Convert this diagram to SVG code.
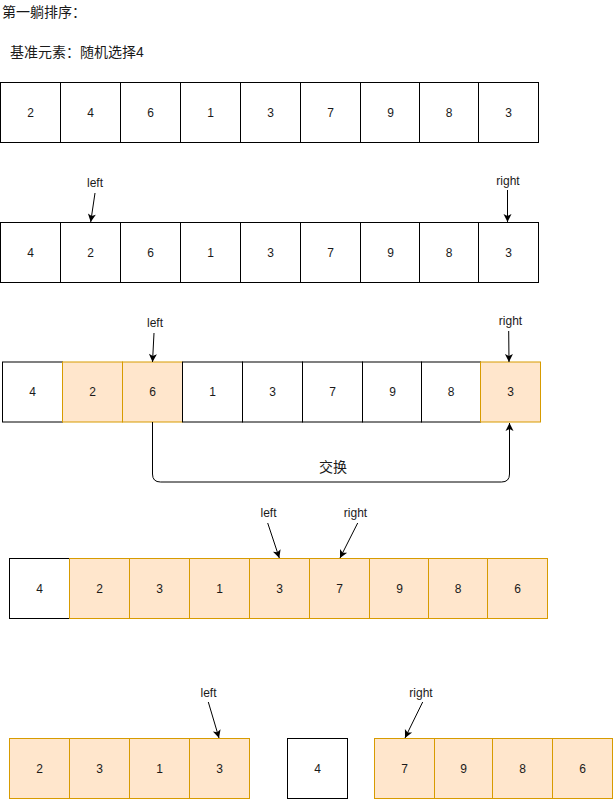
<svg xmlns="http://www.w3.org/2000/svg" width="613" height="799" viewBox="0 0 613 799">
<style>
text{font-family:"Liberation Sans","Noto Sans CJK SC",sans-serif;font-size:12px;fill:#1a1a1a}
.n{text-anchor:middle;dominant-baseline:central}
.cj{font-size:14px}
.w{fill:#ffffff;stroke:#000000;stroke-width:1}
.o{fill:#ffe6cc;stroke:#d79b00;stroke-width:1}
.e{fill:none;stroke:#000000;stroke-width:1}
</style>
<defs>
<marker id="ar" markerUnits="userSpaceOnUse" markerWidth="10" markerHeight="10" viewBox="0 0 10 10" refX="9" refY="5" orient="auto">
<path d="M1,1 L9,5 L1,9 L3,5 z" fill="#000"/>
</marker>
</defs>
<g id="titles">
<text class="cj" x="2" y="17">第一躺排序：</text>
<text class="cj" x="10" y="57">基准元素：随机选择4</text>
</g>
<g id="row1">
<g id="r1c1"><rect class="w" x="0.5" y="82.5" width="60" height="60"/><text class="n" x="30.5" y="112.5">2</text></g>
<g id="r1c2"><rect class="w" x="60.5" y="82.5" width="60" height="60"/><text class="n" x="90.5" y="112.5">4</text></g>
<g id="r1c3"><rect class="w" x="120.5" y="82.5" width="60" height="60"/><text class="n" x="150.5" y="112.5">6</text></g>
<g id="r1c4"><rect class="w" x="180.5" y="82.5" width="60" height="60"/><text class="n" x="210.5" y="112.5">1</text></g>
<g id="r1c5"><rect class="w" x="240.5" y="82.5" width="60" height="60"/><text class="n" x="270.5" y="112.5">3</text></g>
<g id="r1c6"><rect class="w" x="300.5" y="82.5" width="60" height="60"/><text class="n" x="330.5" y="112.5">7</text></g>
<g id="r1c7"><rect class="w" x="360.5" y="82.5" width="59" height="60"/><text class="n" x="390.5" y="112.5">9</text></g>
<g id="r1c8"><rect class="w" x="419.5" y="82.5" width="59" height="60"/><text class="n" x="449" y="112.5">8</text></g>
<g id="r1c9"><rect class="w" x="478.5" y="82.5" width="60" height="60"/><text class="n" x="508.5" y="112.5">3</text></g>
</g>
<g id="row2">
<g id="r2c1"><rect class="w" x="0.5" y="222.5" width="60" height="60"/><text class="n" x="30.5" y="252.5">4</text></g>
<g id="r2c2"><rect class="w" x="60.5" y="222.5" width="60" height="60"/><text class="n" x="90.5" y="252.5">2</text></g>
<g id="r2c3"><rect class="w" x="120.5" y="222.5" width="60" height="60"/><text class="n" x="150.5" y="252.5">6</text></g>
<g id="r2c4"><rect class="w" x="180.5" y="222.5" width="60" height="60"/><text class="n" x="210.5" y="252.5">1</text></g>
<g id="r2c5"><rect class="w" x="240.5" y="222.5" width="60" height="60"/><text class="n" x="270.5" y="252.5">3</text></g>
<g id="r2c6"><rect class="w" x="300.5" y="222.5" width="60" height="60"/><text class="n" x="330.5" y="252.5">7</text></g>
<g id="r2c7"><rect class="w" x="360.5" y="222.5" width="59" height="60"/><text class="n" x="390.5" y="252.5">9</text></g>
<g id="r2c8"><rect class="w" x="419.5" y="222.5" width="59" height="60"/><text class="n" x="449" y="252.5">8</text></g>
<g id="r2c9"><rect class="w" x="478.5" y="222.5" width="60" height="60"/><text class="n" x="508.5" y="252.5">3</text></g>
</g>
<g id="row3">
<g id="r3c1"><rect class="w" x="2.5" y="362" width="60" height="60"/><text class="n" x="32.5" y="392">4</text></g>
<g id="r3c2"><rect class="o" x="62.5" y="362" width="60" height="60"/><text class="n" x="92.5" y="392">2</text></g>
<g id="r3c3"><rect class="o" x="122.5" y="362" width="60" height="60"/><text class="n" x="152.5" y="392">6</text></g>
<g id="r3c4"><rect class="w" x="182.5" y="362" width="60" height="60"/><text class="n" x="212.5" y="392">1</text></g>
<g id="r3c5"><rect class="w" x="242.5" y="362" width="60" height="60"/><text class="n" x="272.5" y="392">3</text></g>
<g id="r3c6"><rect class="w" x="302.5" y="362" width="60" height="60"/><text class="n" x="332.5" y="392">7</text></g>
<g id="r3c7"><rect class="w" x="362.5" y="362" width="59" height="60"/><text class="n" x="392.5" y="392">9</text></g>
<g id="r3c8"><rect class="w" x="421.5" y="362" width="59" height="60"/><text class="n" x="451" y="392">8</text></g>
<g id="r3c9"><rect class="o" x="480.5" y="362" width="60" height="60"/><text class="n" x="510.5" y="392">3</text></g>
</g>
<g id="row4">
<g id="r4c1"><rect class="w" x="9.5" y="558.5" width="60" height="60"/><text class="n" x="39.5" y="588.5">4</text></g>
<g id="r4c2"><rect class="o" x="69.5" y="558.5" width="60" height="60"/><text class="n" x="99.5" y="588.5">2</text></g>
<g id="r4c3"><rect class="o" x="129.5" y="558.5" width="60" height="60"/><text class="n" x="159.5" y="588.5">3</text></g>
<g id="r4c4"><rect class="o" x="189.5" y="558.5" width="60" height="60"/><text class="n" x="219.5" y="588.5">1</text></g>
<g id="r4c5"><rect class="o" x="249.5" y="558.5" width="60" height="60"/><text class="n" x="279.5" y="588.5">3</text></g>
<g id="r4c6"><rect class="o" x="309.5" y="558.5" width="60" height="60"/><text class="n" x="339.5" y="588.5">7</text></g>
<g id="r4c7"><rect class="o" x="369.5" y="558.5" width="59" height="60"/><text class="n" x="399.5" y="588.5">9</text></g>
<g id="r4c8"><rect class="o" x="428.5" y="558.5" width="59" height="60"/><text class="n" x="458" y="588.5">8</text></g>
<g id="r4c9"><rect class="o" x="487.5" y="558.5" width="60" height="60"/><text class="n" x="517.5" y="588.5">6</text></g>
</g>
<g id="row5">
<g id="r5c1"><rect class="o" x="9.5" y="738.5" width="60" height="60"/><text class="n" x="39.5" y="768.5">2</text></g>
<g id="r5c2"><rect class="o" x="69.5" y="738.5" width="60" height="60"/><text class="n" x="99.5" y="768.5">3</text></g>
<g id="r5c3"><rect class="o" x="129.5" y="738.5" width="60" height="60"/><text class="n" x="159.5" y="768.5">1</text></g>
<g id="r5c4"><rect class="o" x="189.5" y="738.5" width="60" height="60"/><text class="n" x="219.5" y="768.5">3</text></g>
<g id="r5pivot"><rect class="w" x="287.5" y="738.5" width="60" height="60"/><text class="n" x="317.5" y="768.5">4</text></g>
<g id="r5c5"><rect class="o" x="374.5" y="738.5" width="60" height="60"/><text class="n" x="404.5" y="768.5">7</text></g>
<g id="r5c6"><rect class="o" x="434.5" y="738.5" width="58" height="60"/><text class="n" x="463.5" y="768.5">9</text></g>
<g id="r5c7"><rect class="o" x="492.5" y="738.5" width="60" height="60"/><text class="n" x="522.5" y="768.5">8</text></g>
<g id="r5c8"><rect class="o" x="552.5" y="738.5" width="60" height="60"/><text class="n" x="582.5" y="768.5">6</text></g>
</g>
<g id="labels">
<text class="n" x="95" y="183">left</text>
<text class="n" x="508" y="180.5">right</text>
<text class="n" x="155" y="323">left</text>
<text class="n" x="510.5" y="320.5">right</text>
<text class="n cj" x="333" y="466.5">交换</text>
<text class="n" x="268.5" y="513">left</text>
<text class="n" x="355.5" y="513">right</text>
<text class="n" x="208.5" y="693">left</text>
<text class="n" x="421" y="693">right</text>
</g>
<g id="connectors">
<line class="e" x1="95" y1="193" x2="90.7" y2="222" marker-end="url(#ar)"/>
<line class="e" x1="507.5" y1="190" x2="507.5" y2="222" marker-end="url(#ar)"/>
<line class="e" x1="154" y1="333" x2="152.5" y2="362" marker-end="url(#ar)"/>
<line class="e" x1="508.7" y1="331" x2="509" y2="362" marker-end="url(#ar)"/>
<path class="e" d="M152.5,422 L152.5,474 Q152.5,482 160.5,482 L501.5,482 Q509.5,482 509.5,474 L509.5,423" marker-end="url(#ar)"/>
<line class="e" x1="267.7" y1="523" x2="279.3" y2="558" marker-end="url(#ar)"/>
<line class="e" x1="357.7" y1="523" x2="340" y2="558" marker-end="url(#ar)"/>
<line class="e" x1="208.3" y1="702" x2="219" y2="738" marker-end="url(#ar)"/>
<line class="e" x1="422.7" y1="702" x2="405" y2="738" marker-end="url(#ar)"/>
</g>
</svg>
